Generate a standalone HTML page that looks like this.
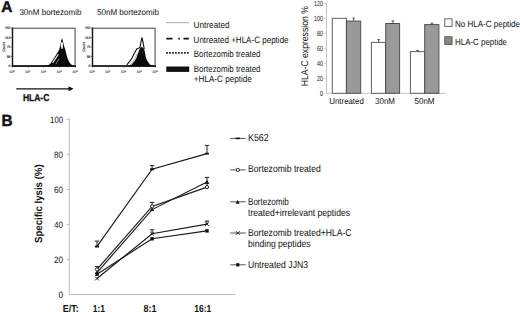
<!DOCTYPE html>
<html><head><meta charset="utf-8"><style>
html,body{margin:0;padding:0;background:#fff;width:520px;height:312px;overflow:hidden}
svg{display:block}
text{font-family:"Liberation Sans",sans-serif;fill:#111;text-rendering:geometricPrecision}
.b{font-weight:bold}
</style></head><body>
<svg width="520" height="312" viewBox="0 0 520 312">
<!-- ===== Panel A ===== -->
<text x="1.2" y="12" class="b" font-size="15.8" textLength="11.2" lengthAdjust="spacingAndGlyphs" stroke="#111" stroke-width="0.45">A</text>
<text x="19.4" y="14.6" font-size="8.3" textLength="62" lengthAdjust="spacingAndGlyphs">30nM bortezomib</text>
<text x="97" y="14.6" font-size="8.3" textLength="62" lengthAdjust="spacingAndGlyphs">50nM bortezomib</text>

<!-- histogram 1 -->
<defs><g id="hfr">
<rect x="12.5" y="28.3" width="62.6" height="37.7" fill="none" stroke="#777" stroke-width="1.4"/>
<line x1="12.5" y1="27.5" x2="12.5" y2="66.5" stroke="#111" stroke-width="1.2"/>
<line x1="12" y1="66" x2="76" y2="66" stroke="#111" stroke-width="1.6"/>
<line x1="10.9" y1="28" x2="12.5" y2="28" stroke="#333" stroke-width="0.6"/>
<text x="10.3" y="29.3" font-size="3.6" text-anchor="end" textLength="5.4" lengthAdjust="spacingAndGlyphs" fill="#111" stroke="#111" stroke-width="0.15">150</text>
<line x1="10.9" y1="37.5" x2="12.5" y2="37.5" stroke="#333" stroke-width="0.6"/>
<text x="10.3" y="38.8" font-size="3.6" text-anchor="end" textLength="5.4" lengthAdjust="spacingAndGlyphs" fill="#111" stroke="#111" stroke-width="0.15">113</text>
<line x1="10.9" y1="47" x2="12.5" y2="47" stroke="#333" stroke-width="0.6"/>
<text x="10.3" y="48.3" font-size="3.6" text-anchor="end" textLength="3.6" lengthAdjust="spacingAndGlyphs" fill="#111" stroke="#111" stroke-width="0.15">75</text>
<line x1="10.9" y1="56.5" x2="12.5" y2="56.5" stroke="#333" stroke-width="0.6"/>
<text x="10.3" y="57.8" font-size="3.6" text-anchor="end" textLength="3.6" lengthAdjust="spacingAndGlyphs" fill="#111" stroke="#111" stroke-width="0.15">38</text>
<line x1="10.9" y1="66" x2="12.5" y2="66" stroke="#333" stroke-width="0.6"/>
<text x="10.3" y="67.3" font-size="3.6" text-anchor="end" textLength="1.8" lengthAdjust="spacingAndGlyphs" fill="#111" stroke="#111" stroke-width="0.15">0</text>
<line x1="12.5" y1="66" x2="12.5" y2="67.6" stroke="#333" stroke-width="0.6"/>
<text x="9.2" y="73" font-size="3.6" fill="#555" stroke="#555" stroke-width="0.12">10<tspan font-size="2.4" dy="-1.4">0</tspan></text>
<line x1="28.25" y1="66" x2="28.25" y2="67.6" stroke="#333" stroke-width="0.6"/>
<text x="24.95" y="73" font-size="3.6" fill="#555" stroke="#555" stroke-width="0.12">10<tspan font-size="2.4" dy="-1.4">1</tspan></text>
<line x1="44.0" y1="66" x2="44.0" y2="67.6" stroke="#333" stroke-width="0.6"/>
<text x="40.7" y="73" font-size="3.6" fill="#555" stroke="#555" stroke-width="0.12">10<tspan font-size="2.4" dy="-1.4">2</tspan></text>
<line x1="59.75" y1="66" x2="59.75" y2="67.6" stroke="#333" stroke-width="0.6"/>
<text x="56.45" y="73" font-size="3.6" fill="#555" stroke="#555" stroke-width="0.12">10<tspan font-size="2.4" dy="-1.4">3</tspan></text>
<line x1="75.5" y1="66" x2="75.5" y2="67.6" stroke="#333" stroke-width="0.6"/>
<text x="72.2" y="73" font-size="3.6" fill="#555" stroke="#555" stroke-width="0.12">10<tspan font-size="2.4" dy="-1.4">4</tspan></text>
<text transform="translate(5.3,47) rotate(-90)" text-anchor="middle" font-size="3.6" fill="#111" stroke="#111" stroke-width="0.15">Count</text>
</g></defs>
<use href="#hfr"/>
<g id="h1">
<path d="M12.5,66 L40,65.9 L45,65.6 L48,65.2 L50,64.1 L51.9,61.5 L54,58.2 L56,55 L58,51.8 L59.3,49.4 L60.3,45.5 L61.2,40.5 L62,38.3 L62.8,40.5 L63.8,45 L65.4,50 L66.6,55 L67.8,59 L69.2,62 L70.9,64.2 L73,65.4 L75.5,65.9 L75.5,66.6 L12.5,66.6 Z" fill="#0a0a0a"/>
<path d="M52.2,62.6 L57.9,53.9 L58.8,54.5 L53.1,63.2 Z" fill="#fff"/>
<path d="M55.5,64 L58.8,58.6 L59.3,58.9 L56.1,64.3 Z" fill="#999"/>
<path d="M61.1,42.8 L62.1,41.5 L62.9,43 L62.9,48.8 L61.5,48.8 L60.9,46 Z" fill="#fff"/>
</g>
<!-- histogram 2 -->
<use href="#hfr" transform="translate(80,0)"/>
<g id="h2">
<path d="M126,66 L129,65.8 L131.2,65 L133,63 L134.8,60.8 L136.6,57.5 L137.9,53.5 L139.4,49.6 L140.8,47.6 L141.7,47 L142.7,47.4 L144.1,49 L145,52.5 L145.7,56.8 L146.8,59.8 L148.1,62.1 L150.1,64.8 L153,65.8 L155,66 L155,66.6 L126,66.6 Z" fill="#0a0a0a"/>
<path d="M126.8,64.9 L129.5,61.6 L132,58 L134.8,52.4 L136.8,48.9 L138.4,48.3 L140,47.6 L140.7,43.5 L141.9,37.5 L143.2,43 L144.2,49" fill="none" stroke="#111" stroke-width="1.15"/>
<path d="M129.8,65.2 L132.8,62 L135.2,58 L137.2,53.5" fill="none" stroke="#777" stroke-width="0.6"/>
</g>

<!-- HLA-C arrow -->
<line x1="16.3" y1="88.8" x2="70" y2="88.8" stroke="#111" stroke-width="1.2"/>
<path d="M68.5,86.3 L73.6,88.8 L68.5,91.3 Z" fill="#111"/>
<text x="22.9" y="101" class="b" font-size="10" textLength="26.4" lengthAdjust="spacingAndGlyphs" stroke="#111" stroke-width="0.3">HLA-C</text>

<!-- legend A -->
<line x1="166" y1="22.7" x2="189" y2="22.7" stroke="#aaa" stroke-width="1"/>
<text x="193.6" y="28" font-size="9.2" textLength="36" lengthAdjust="spacingAndGlyphs">Untreated</text>
<path d="M166.3,38.7 H172.5 M178.3,38.7 H179.9 M183.5,38.7 H188.8" stroke="#111" stroke-width="1.8"/>
<text x="193.6" y="43" font-size="9.2" textLength="95" lengthAdjust="spacingAndGlyphs">Untreated +HLA-C peptide</text>
<line x1="166.2" y1="52.9" x2="189" y2="52.9" stroke="#000" stroke-width="1.6" stroke-dasharray="1.5,1.5"/>
<text x="193.8" y="57" font-size="9.2" textLength="66.7" lengthAdjust="spacingAndGlyphs">Bortezomib treated</text>
<rect x="166.3" y="66.5" width="22.9" height="5.4" fill="#111"/>
<text x="193.8" y="72" font-size="9.2" textLength="66.7" lengthAdjust="spacingAndGlyphs">Bortezomib treated</text>
<text x="193.8" y="82" font-size="9.2" textLength="58" lengthAdjust="spacingAndGlyphs">+HLA-C peptide</text>

<!-- bar chart -->
<g id="bar">
<line x1="326.5" y1="3" x2="326.5" y2="93.5" stroke="#c4c4c4" stroke-width="1"/>
<line x1="326.5" y1="93.3" x2="445.5" y2="93.3" stroke="#c4c4c4" stroke-width="1"/>
<g stroke="#c4c4c4" stroke-width="1">
<line x1="324.5" y1="3.3" x2="326.5" y2="3.3"/>
<line x1="324.5" y1="18.3" x2="326.5" y2="18.3"/>
<line x1="324.5" y1="33.3" x2="326.5" y2="33.3"/>
<line x1="324.5" y1="48.3" x2="326.5" y2="48.3"/>
<line x1="324.5" y1="63.3" x2="326.5" y2="63.3"/>
<line x1="324.5" y1="78.3" x2="326.5" y2="78.3"/>
</g>
<g font-size="7.4" text-anchor="end" fill="#555">
<text x="322.9" y="5.6" textLength="8.8" lengthAdjust="spacingAndGlyphs">120</text>
<text x="322.9" y="20.6" textLength="8.8" lengthAdjust="spacingAndGlyphs">100</text>
<text x="322.9" y="35.6" textLength="5.9" lengthAdjust="spacingAndGlyphs">80</text>
<text x="322.9" y="50.6" textLength="5.9" lengthAdjust="spacingAndGlyphs">60</text>
<text x="322.9" y="65.6" textLength="5.9" lengthAdjust="spacingAndGlyphs">40</text>
<text x="322.9" y="80.6" textLength="5.9" lengthAdjust="spacingAndGlyphs">20</text>
<text x="322.9" y="95.6" textLength="3" lengthAdjust="spacingAndGlyphs">0</text>
</g>
<text transform="translate(308.1,46.2) rotate(-90)" text-anchor="middle" font-size="9.8" textLength="80" lengthAdjust="spacingAndGlyphs">HLA-C expression %</text>
<!-- bars -->
<g stroke="#606060" stroke-width="1">
<rect x="332.3" y="18.3" width="14.1" height="75" fill="#fff"/>
<rect x="346.4" y="21.1" width="14.3" height="72.2" fill="#999" stroke="#505050"/>
<rect x="371.4" y="42.4" width="14.1" height="50.9" fill="#fff"/>
<rect x="385.7" y="23.5" width="13.9" height="69.8" fill="#999" stroke="#505050"/>
<rect x="410.4" y="51.6" width="14.3" height="41.7" fill="#fff"/>
<rect x="424.7" y="24.6" width="14.2" height="68.7" fill="#999" stroke="#505050"/>
</g>
<!-- error bars -->
<g stroke="#333" stroke-width="0.8">
<path d="M353.6,20.9 V18.2 M352.3,18.2 H354.9"/>
<path d="M378.7,42 V39.6 M377.4,39.6 H380"/>
<path d="M392.9,23.3 V20.9 M391.6,20.9 H394.2"/>
<path d="M417.6,51.3 V50.5 M416.3,50.5 H418.9"/>
<path d="M432,24.4 V23.2 M430.7,23.2 H433.3"/>
</g>
<g font-size="8.6">
<text x="329.3" y="103.7" textLength="34.5" lengthAdjust="spacingAndGlyphs">Untreated</text>
<text x="375" y="103.7" textLength="20" lengthAdjust="spacingAndGlyphs">30nM</text>
<text x="414.5" y="103.7" textLength="20" lengthAdjust="spacingAndGlyphs">50nM</text>
</g>
<!-- legend -->
<rect x="444.8" y="18.8" width="7.2" height="7.6" fill="#fff" stroke="#666" stroke-width="1"/>
<text x="455" y="27.4" font-size="9" textLength="65" lengthAdjust="spacingAndGlyphs">No HLA-C peptide</text>
<rect x="444.8" y="36.8" width="7.2" height="7.6" fill="#8a8a8a" stroke="#555" stroke-width="1"/>
<text x="455" y="44.6" font-size="9" textLength="52" lengthAdjust="spacingAndGlyphs">HLA-C peptide</text>
</g>

<!-- ===== Panel B ===== -->
<text x="1.5" y="125.6" class="b" font-size="16.2" textLength="11.1" lengthAdjust="spacingAndGlyphs" stroke="#111" stroke-width="0.45">B</text>
<g id="lineaxes">
<line x1="69.3" y1="118.7" x2="69.3" y2="294.7" stroke="#bdbdbd" stroke-width="1"/>
<line x1="69.3" y1="294.5" x2="235.5" y2="294.5" stroke="#bdbdbd" stroke-width="1"/>
<g stroke="#bdbdbd" stroke-width="1">
<line x1="66.5" y1="119.4" x2="69.3" y2="119.4"/>
<line x1="66.5" y1="154.4" x2="69.3" y2="154.4"/>
<line x1="66.5" y1="189.5" x2="69.3" y2="189.5"/>
<line x1="66.5" y1="224.6" x2="69.3" y2="224.6"/>
<line x1="66.5" y1="259.6" x2="69.3" y2="259.6"/>
</g>
<g font-size="9.2" text-anchor="end" fill="#222">
<text x="63.1" y="122.6" textLength="13.0" lengthAdjust="spacingAndGlyphs">100</text>
<text x="63.1" y="157.6" textLength="9.0" lengthAdjust="spacingAndGlyphs">80</text>
<text x="63.1" y="192.7" textLength="9.0" lengthAdjust="spacingAndGlyphs">60</text>
<text x="63.1" y="227.8" textLength="9.0" lengthAdjust="spacingAndGlyphs">40</text>
<text x="63.1" y="262.8" textLength="9.0" lengthAdjust="spacingAndGlyphs">20</text>
<text x="63.1" y="297.8" textLength="4.6" lengthAdjust="spacingAndGlyphs">0</text>
</g>
<text transform="translate(42,203.7) rotate(-90)" text-anchor="middle" class="b" font-size="10.4" textLength="78.6" lengthAdjust="spacingAndGlyphs">Specific lysis (%)</text>
<g class="b" font-size="10.2">
<text x="62.7" y="311.6" textLength="16" lengthAdjust="spacingAndGlyphs">E/T:</text>
<text x="92.7" y="311.6" textLength="12.3" lengthAdjust="spacingAndGlyphs">1:1</text>
<text x="143.5" y="311.6" textLength="13" lengthAdjust="spacingAndGlyphs">8:1</text>
<text x="194.2" y="311.6" textLength="17" lengthAdjust="spacingAndGlyphs">16:1</text>
</g>
</g>

<!-- data lines -->
<g fill="none" stroke="#1a1a1a" stroke-width="1.15">
<polyline points="97,246.4 152.1,169.2 207,153.6"/>
<polyline points="97,269.4 152.1,206.4 207,187.1"/>
<polyline points="97,272.6 152.1,209.6 207,182.0"/>
<polyline points="97,278.5 152.1,233.7 207,224.1"/>
<polyline points="97,274.2 152.1,238.8 207,230.9"/>
</g>
<!-- error bars B -->
<g stroke="#222" stroke-width="1" fill="none">
<path d="M97,246.4 V241.1 M94.8,241.1 H99.2"/>
<path d="M152.1,169.2 V165.6 M149.9,165.6 H154.29999999999998"/>
<path d="M207,153.6 V145.4 M204.8,145.4 H209.2"/>
<path d="M97,269.4 V266.6 M94.8,266.6 H99.2"/>
<path d="M152.1,206.4 V202.4 M149.9,202.4 H154.29999999999998"/>
<path d="M207,187.1 V183.6 M204.8,183.6 H209.2"/>
<path d="M207,182.0 V177.4 M204.8,177.4 H209.2"/>
<path d="M152.1,233.7 V229.8 M149.9,229.8 H154.29999999999998"/>
<path d="M207,224.1 V221.0 M204.8,221.0 H209.2"/>
</g>
<!-- markers -->
<g fill="#111" stroke="none">
<path d="M95,245.5 h4 v1.9 h-4z M150.1,168.29999999999998 h4 v1.9 h-4z M205,152.7 h4 v1.9 h-4z"/>
<path d="M97,270.40000000000003 l2.1,3.6 h-4.2z M152.1,207.4 l2.1,3.6 h-4.2z M207,179.8 l2.1,3.6 h-4.2z"/>
<rect x="95.3" y="272.5" width="3.4" height="3.4"/>
<rect x="150.4" y="237.1" width="3.4" height="3.4"/>
<rect x="205.3" y="229.2" width="3.4" height="3.4"/>
</g>
<path d="M95.1,276.6 l3.8,3.8 M98.9,276.6 l-3.8,3.8 M150.2,231.79999999999998 l3.8,3.8 M154.0,231.79999999999998 l-3.8,3.8 M205.1,222.2 l3.8,3.8 M208.9,222.2 l-3.8,3.8" stroke="#111" stroke-width="0.9" fill="none"/>
<g fill="#fff" stroke="#111" stroke-width="0.9">
<circle cx="97" cy="269.4" r="1.6"/>
<circle cx="152.1" cy="206.4" r="1.6"/>
<circle cx="207" cy="187.1" r="1.6"/>
</g>
<!-- legend B -->
<g stroke="#555" stroke-width="1" fill="none">
<line x1="230.2" y1="138.4" x2="245.8" y2="138.4"/>
<line x1="230.2" y1="169.9" x2="245.8" y2="169.9"/>
<line x1="230.2" y1="201.8" x2="245.8" y2="201.8"/>
<line x1="230.2" y1="233.0" x2="245.8" y2="233.0"/>
<line x1="230.2" y1="264.8" x2="245.8" y2="264.8"/>
</g>
<path d="M235.70000000000002,137.6 h4.2 v1.6 h-4.2z" fill="#111"/>
<circle cx="237.8" cy="169.9" r="1.6" fill="#fff" stroke="#111" stroke-width="0.9"/>
<path d="M237.6,200.1 l2.1,3.7 h-4.2z" fill="#111"/>
<path d="M236.0,231.2 l3.6,3.6 M239.60000000000002,231.2 l-3.6,3.6" stroke="#111" stroke-width="0.9"/>
<rect x="236.20000000000002" y="263.2" width="3.2" height="3.2" fill="#111"/>
<g font-size="10">
<text x="248" y="141.3" textLength="20.6" lengthAdjust="spacingAndGlyphs">K562</text>
<text x="248" y="172.3" textLength="72.8" lengthAdjust="spacingAndGlyphs">Bortezomib treated</text>
<text x="248" y="204.5" textLength="40.8" lengthAdjust="spacingAndGlyphs">Bortezomib</text>
<text x="248" y="215.9" textLength="102" lengthAdjust="spacingAndGlyphs">treated+irrelevant peptides</text>
<text x="248" y="235.9" textLength="103.6" lengthAdjust="spacingAndGlyphs">Bortezomib treated+HLA-C</text>
<text x="248" y="247.1" textLength="62.5" lengthAdjust="spacingAndGlyphs">binding peptides</text>
<text x="248" y="268.0" textLength="60" lengthAdjust="spacingAndGlyphs">Untreated JJN3</text>
</g>
</svg>
</body></html>
